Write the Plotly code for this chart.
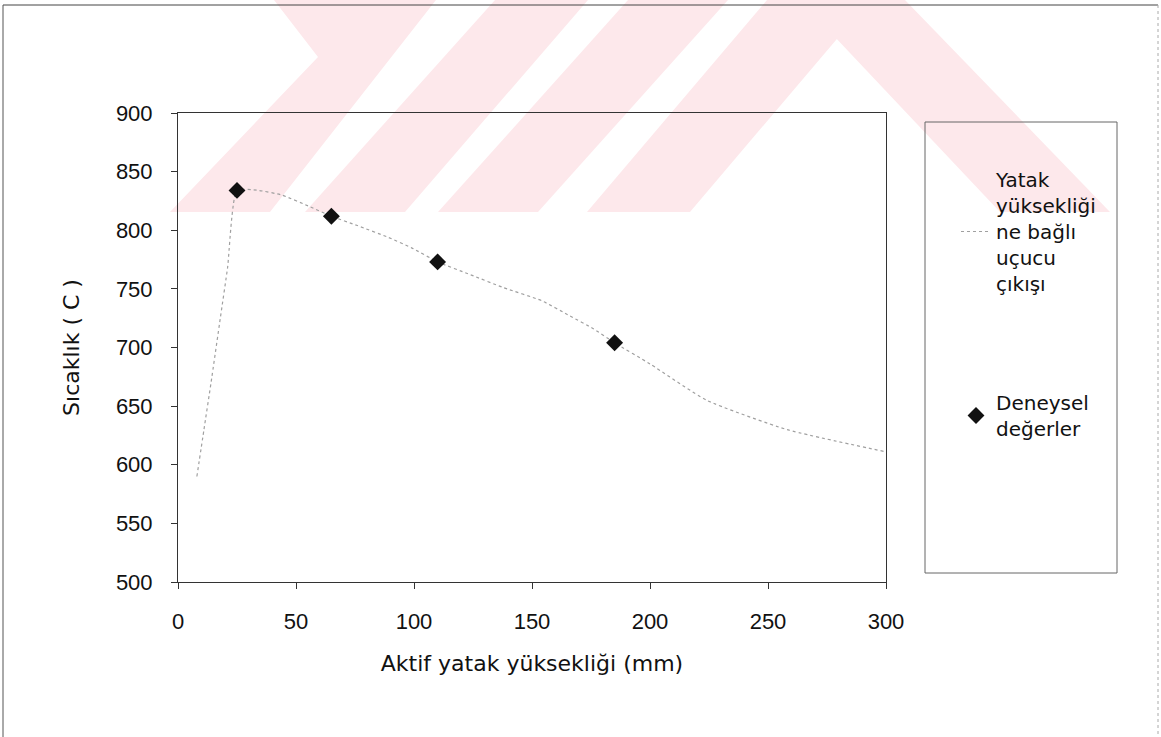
import plotly.graph_objects as go

# Measured bed temperatures
bed_height = [25, 65, 110, 185]          # mm
temperature = [834, 812, 773, 704]       # °C

# Volatile-release curve along the bed height
curve_height = [8, 11, 14, 18, 21, 25, 34, 44, 56, 65, 76, 89, 99, 110,
                124, 138, 154, 166, 176, 185, 200, 224, 258, 300]
curve_temp = [590, 630, 670, 726, 768, 834, 834, 830, 820, 812, 804, 794, 785, 773,
              762, 751, 740, 727, 716, 704, 686, 655, 630, 611]

x_ticks = [0, 50, 100, 150, 200, 250, 300]
y_ticks = [500, 550, 600, 650, 700, 750, 800, 850, 900]

W, H = 1161, 737
L, R, T, B = 178, 886, 113, 582   # plot area in pixels
FONT = "DejaVu Sans"
NUM_FONT = "Liberation Sans"


def fx(p):
    return (p - L) / (R - L)


def fy(p):
    return (B - p) / (B - T)


def poly(points):
    return "M " + " L ".join(f"{fx(x):.5f},{fy(y):.5f}" for x, y in points) + " Z"


fig = go.Figure()

fig.add_trace(go.Scatter(
    x=curve_height, y=curve_temp, mode="lines",
    name="Yatak<br>yüksekliği<br>ne bağlı<br>uçucu<br>çıkışı",
    line=dict(color="#a0a0a0", width=1.2, dash="dot", shape="spline", smoothing=0.5),
    legendgroup="a", hoverinfo="skip",
))
fig.add_trace(go.Scatter(
    x=bed_height, y=temperature, mode="markers",
    name="Deneysel<br>değerler",
    marker=dict(symbol="diamond", size=13, color="#111111"),
    legendgroup="b",
))

shapes = []
# pale background emblem across the top of the page
pink = "#fde8eb"
for pts in [
    [(274, 0), (436, 0), (270, 212), (170, 212), (318, 57)],
    [(495, 0), (588, 0), (405, 212), (305, 212)],
    [(628, 0), (728, 0), (538, 212), (438, 212)],
    [(767, 0), (870, 0), (690, 212), (587, 212)],
    [(800, 0), (905, 0), (1110, 212), (1000, 212)],
]:
    shapes.append(dict(type="path", path=poly(pts), xref="paper", yref="paper",
                       fillcolor=pink, line=dict(width=0), layer="below"))

# page frame
shapes += [
    dict(type="line", xref="paper", yref="paper", x0=fx(3), y0=fy(5), x1=fx(1158), y1=fy(5),
         line=dict(color="#444444", width=1)),
    dict(type="line", xref="paper", yref="paper", x0=fx(3), y0=fy(5), x1=fx(3), y1=fy(737),
         line=dict(color="#555555", width=1)),
    dict(type="line", xref="paper", yref="paper", x0=fx(1158), y0=fy(5), x1=fx(1158), y1=fy(737),
         line=dict(color="#aaaaaa", width=1, dash="dot")),
]
# legend frame
shapes.append(dict(type="rect", xref="paper", yref="paper",
                   x0=fx(925), y0=fy(573), x1=fx(1117), y1=fy(122),
                   line=dict(color="#666666", width=1), fillcolor="rgba(0,0,0,0)"))

axis_common = dict(
    showline=True, linecolor="#333333", linewidth=1, mirror=True,
    ticks="outside", ticklen=6, tickcolor="#333333", tickwidth=1,
    showgrid=False, zeroline=False,
    tickfont=dict(family=NUM_FONT, size=22, color="#111111"),
)

fig.update_layout(
    width=W, height=H,
    margin=dict(l=L, r=W - R, t=T, b=H - B, autoexpand=False),
    paper_bgcolor="white", plot_bgcolor="rgba(0,0,0,0)",
    font=dict(family=FONT, color="#111111"),
    shapes=shapes,
    xaxis=dict(range=[0, 300], tickvals=x_ticks, ticklabelstandoff=14,
               title=dict(text="Aktif yatak yüksekliği (mm)", standoff=22,
                          font=dict(family=FONT, size=22)),
               **axis_common),
    yaxis=dict(range=[500, 900], tickvals=y_ticks, ticklabelstandoff=14,
               title=dict(text="Sıcaklık ( C )", standoff=30,
                          font=dict(family=FONT, size=22)),
               **axis_common),
    legend=dict(x=fx(956), y=fy(160), xanchor="left", yanchor="top",
                bgcolor="rgba(0,0,0,0)", borderwidth=0,
                font=dict(family=FONT, size=20, color="#111111"),
                tracegroupgap=90, traceorder="grouped"),
    showlegend=True,
)

fig.write_html("out.html")
